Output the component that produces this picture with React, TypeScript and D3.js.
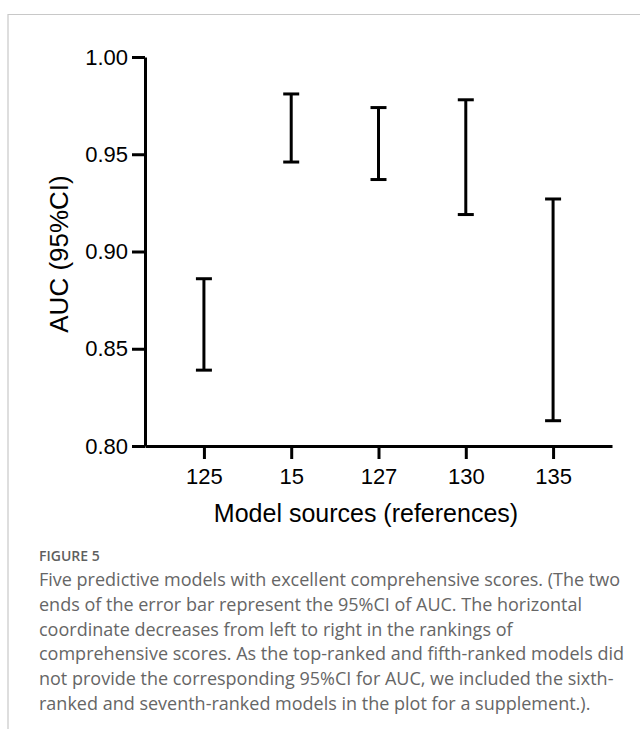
import React, { useRef, useEffect } from 'react';
import * as d3 from 'd3';

const models = ['125', '15', '127', '130', '135'];
const lower = [0.839, 0.946, 0.937, 0.919, 0.813];
const upper = [0.886, 0.981, 0.974, 0.978, 0.927];
const yTicks = [0.8, 0.85, 0.9, 0.95, 1.0];

const captionTitle = 'FIGURE 5';
const captionLines = [
  'Five predictive models with excellent comprehensive scores. (The two',
  'ends of the error bar represent the 95%CI of AUC. The horizontal',
  'coordinate decreases from left to right in the rankings of',
  'comprehensive scores. As the top-ranked and fifth-ranked models did',
  'not provide the corresponding 95%CI for AUC, we included the sixth-',
  'ranked and seventh-ranked models in the plot for a supplement.).',
];

const W = 640;
const H = 729;
const FONT = '"Liberation Sans", Arial, Helvetica, sans-serif';

const xScale = d3.scalePoint<string>().domain(models).range([145, 612]).padding(0.675);
const yScale = d3.scaleLinear().domain([0.8, 1.0]).range([446, 57]);

const XAxis = () => {
  const ref = useRef<SVGGElement>(null);
  useEffect(() => {
    const g = d3.select(ref.current);
    g.call(d3.axisBottom(xScale).tickSize(13).tickSizeOuter(0).tickPadding(9));
    g.select('.domain').attr('stroke-width', 3);
    g.selectAll('.tick line').attr('stroke-width', 3);
    g.selectAll('.tick text').attr('font-size', 22).attr('font-family', FONT).attr('fill', '#000');
  }, []);
  return <g ref={ref} transform={`translate(0, ${yScale(0.8)})`} />;
};

const YAxis = () => {
  const ref = useRef<SVGGElement>(null);
  useEffect(() => {
    const g = d3.select(ref.current);
    g.call(
      d3.axisLeft(yScale).tickValues(yTicks).tickFormat(d3.format('.2f')).tickSize(13).tickSizeOuter(0).tickPadding(4)
    );
    g.select('.domain').attr('stroke-width', 3);
    g.selectAll('.tick line').attr('stroke-width', 3);
    g.selectAll('.tick text').attr('font-size', 22).attr('font-family', FONT).attr('fill', '#000');
  }, []);
  return <g ref={ref} transform={`translate(145, 0)`} />;
};

export default function App() {
  const cap = 8;
  return (
    <svg width={W} height={H} style={{ position: 'absolute', left: 0, top: 0, background: '#fff' }}>
      {/* frame */}
      <path d={`M8,${H} V14.5 H${W}`} fill="none" stroke="#c8c8c8" strokeWidth={1.2} />

      {models.map((m, i) => {
        const x = xScale(m)!;
        const y0 = yScale(lower[i]);
        const y1 = yScale(upper[i]);
        return (
          <g key={m} stroke="#000" strokeWidth={3}>
            <line x1={x} x2={x} y1={y1} y2={y0} />
            <line x1={x - cap} x2={x + cap} y1={y1} y2={y1} />
            <line x1={x - cap} x2={x + cap} y1={y0} y2={y0} />
          </g>
        );
      })}

      <XAxis />
      <YAxis />

      <text x={366} y={522} textAnchor="middle" fontFamily={FONT} fontSize={25}>
        Model sources (references)
      </text>
      <text
        transform={`translate(68, 254) rotate(-90)`}
        textAnchor="middle"
        fontFamily={FONT}
        fontSize={26}
      >
        AUC (95%CI)
      </text>

      <text x={39} y={561} fontFamily='"Open Sans", sans-serif' fontSize={14} fontWeight={600} fill="#5f5f5f">
        {captionTitle}
      </text>
      {captionLines.map((l, i) => (
        <text key={i} x={39} y={586 + i * 24.8} fontFamily='"Open Sans", sans-serif' fontSize={18} fill="#666">
          {l}
        </text>
      ))}
    </svg>
  );
}
